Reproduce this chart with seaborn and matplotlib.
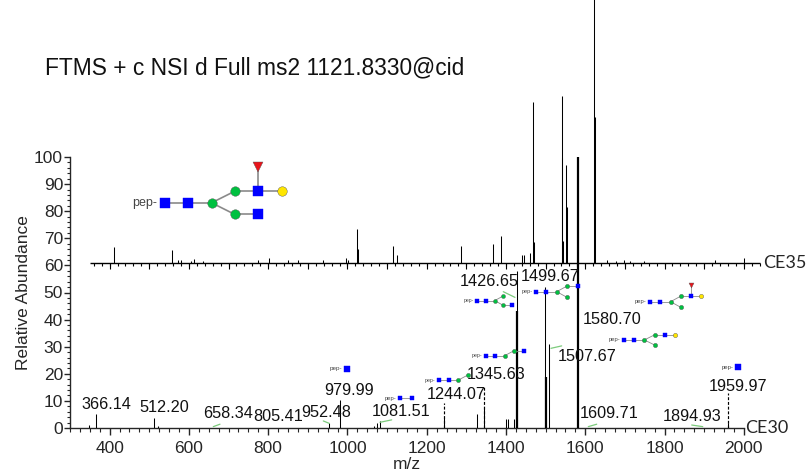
import numpy as np
import pandas as pd
import matplotlib
matplotlib.use("Agg")
import matplotlib.pyplot as plt
import seaborn as sns
from matplotlib.ticker import MultipleLocator

# ---------------- data ----------------
# lower trace (CE30): m/z and relative abundance
ce30_mz = [348.0, 366.14, 512.20, 521.0, 952.48, 979.99, 1068.0, 1075.0, 1081.51,
           1244.07, 1326.0, 1345.63, 1400.0, 1404.0, 1421.0, 1426.65, 1427.0,
           1499.67, 1500.0, 1507.67, 1580.70, 1959.97]
ce30_int = [1.0, 5.2, 3.7, 0.8, 2.0, 10.3, 0.8, 1.8, 2.7,
            3.7, 5.0, 7.7, 3.3, 3.3, 3.3, 58.0, 43.0,
            52.0, 19.0, 31.0, 100.0, 1.8]
ce30_thick = [1427.0, 1500.0, 1580.70]

# upper trace (CE35): m/z and abundance above its own baseline
ce35_mz = [411.8, 556.6, 572.5, 580.0, 604.5, 612.9, 635.6, 774.3, 802.0, 850.0,
           875.2, 938.3, 995.6, 1001.4, 1023.3, 1025.4, 1115.7, 1124.3, 1286.5,
           1366.5, 1387.4, 1439.6, 1445.4, 1460.6, 1468.2, 1471.5, 1540.6, 1542.1,
           1544.7, 1550.7, 1552.7, 1622.1, 1623.8, 1654.1, 1677.6, 1698.5, 1712.9,
           1748.2, 1927.4, 2000.5]
ce35_int = [5.9, 4.8, 1.1, 1.1, 0.7, 1.5, 0.7, 1.1, 1.8, 1.1,
            1.1, 1.1, 1.8, 1.1, 12.5, 5.2, 6.3, 3.0, 6.0,
            7.0, 10.0, 3.0, 3.0, 3.7, 59.4, 7.7, 38.7, 61.6,
            8.1, 36.2, 20.7, 100.0, 53.9, 1.1, 0.7, 1.1, 0.7,
            0.7, 1.1, 1.8]
ce35_baseline = 61.0

# peak labels (text, label position in data units)
label_text = ["366.14", "512.20", "658.34", "805.41", "952.48", "979.99", "1081.51",
              "1244.07", "1345.63", "1426.65", "1499.67", "1507.67", "1580.70",
              "1609.71", "1894.93", "1959.97"]
label_x = [392.6, 537.2, 698.6, 824.8, 945.9, 1005.2, 1135.1,
           1273.9, 1374.8, 1358.9, 1511.1, 1605.7, 1668.7,
           1659.9, 1870.6, 1985.4]
label_y = [8.5, 7.4, 5.2, 4.4, 5.6, 14.0, 6.0,
           12.5, 19.6, 54.0, 55.8, 26.3, 39.9,
           5.2, 4.4, 15.2]

# dashed guides from label to peak
dash_mz = [1243.6, 1344.5, 1959.4]
dash_top = [9.2, 15.5, 12.9]

# green leader lines (x0, y0, x1, y1)
lead_x0 = [661.5, 939.1, 1082.1, 1393.2, 1513.5, 1607.7, 1868.6]
lead_y0 = [0.5, 2.6, 2.1, 50.3, 29.4, 0.5, 1.1]
lead_x1 = [678.4, 954.3, 1111.6, 1422.7, 1540.5, 1628.9, 1896.4]
lead_y1 = [1.4, 1.7, 3.0, 48.2, 30.3, 1.4, 0.5]

# ---------------- glycan cartoons ----------------
STRUCT = {
    "G0": ([("S", 0, 0), ("S", 1, 0), ("C", 2, 0), ("C", 3, 1), ("C", 3, -1), ("S", 4, 1),
            ("S", 4, -1), ("Y", 5, 1), ("F", 4, "f")],
           [(0, 1), (1, 2), (2, 3), (2, 4), (3, 5), (4, 6), (5, 7), (5, 8)]),
    "G3": ([("S", 0, 0), ("S", 1, 0), ("C", 2, 0), ("C", 3, 1), ("C", 3, -1), ("S", 4, 1),
            ("Y", 5, 1), ("F", 4, "f")],
           [(0, 1), (1, 2), (2, 3), (2, 4), (3, 5), (5, 6), (5, 7)]),
    "G4": ([("S", 0, 0), ("S", 1, 0), ("C", 2, 0), ("C", 3, 1), ("C", 3, -1), ("S", 4, 1),
            ("Y", 5, 1)],
           [(0, 1), (1, 2), (2, 3), (2, 4), (3, 5), (5, 6)]),
    "G2": ([("S", 0, 0), ("S", 1, 0), ("C", 2, 0), ("C", 3, 1), ("C", 3, -1), ("S", 4, 1)],
           [(0, 1), (1, 2), (2, 3), (2, 4), (3, 5)]),
    "G1": ([("S", 0, 0), ("S", 1, 0), ("C", 2, 0), ("C", 3, 1), ("C", 3, -1), ("S", 4, -1)],
           [(0, 1), (1, 2), (2, 3), (2, 4), (4, 5)]),
    "G5": ([("S", 0, 0), ("S", 1, 0), ("C", 2, 0), ("C", 3, 1), ("S", 4, 1)],
           [(0, 1), (1, 2), (2, 3), (3, 4)]),
    "G6": ([("S", 0, 0), ("S", 1, 0), ("C", 2, 0), ("C", 3, 1)],
           [(0, 1), (1, 2), (2, 3)]),
    "G7": ([("S", 0, 0), ("S", 1, 0)], [(0, 1)]),
    "G8": ([("S", 0, 0)], []),
}
SYMBOL = {"S": ("s", "#0000FF"), "C": ("o", "#00C040"), "Y": ("o", "#FFE600"), "F": ("v", "#E8141B")}

# glycan placements: kind, anchor m/z, anchor abundance, step px, symbol px, pep font, branch
gly_kind = ["G0", "G1", "G2", "G3", "G4", "G5", "G6", "G7", "G8", "G8"]
gly_mz = [539.7, 1327.6, 1475.0, 1763.3, 1697.7, 1348.8, 1231.0, 1132.6, 999.6, 1984.6]
gly_ab = [83.1, 47.0, 50.3, 46.6, 32.5, 26.7, 17.7, 11.0, 21.8, 22.5]
gly_step = [23.3, 8.7, 10.5, 10.3, 10.2, 9.5, 9.7, 12.3, 10.0, 10.0]
gly_size = [9.5, 4.0, 4.3, 4.3, 4.3, 4.2, 4.2, 5.0, 6.0, 5.2]
gly_font = [9.0, 3.6, 4.0, 4.2, 4.2, 3.8, 3.8, 4.2, 4.5, 4.3]
gly_branch = [0.5, 0.55, 0.55, 0.55, 0.5, 0.53, 0.53, 0.5, 0.5, 0.5]

# ---------------- figure ----------------
sns.set_style("ticks")
plt.rcParams["font.family"] = ["Liberation Sans", "DejaVu Sans"]

W, H = 811, 473
fig = plt.figure(figsize=(W / 100, H / 100), dpi=100)
AX_L, AX_B, AX_W, AX_H = 70, 45, 673.8, 271
ax = fig.add_axes([AX_L / W, AX_B / H, AX_W / W, AX_H / H])
XMIN, XMAX, YMIN, YMAX = 300, 2000, 0, 100
ax.set_xlim(XMIN, XMAX)
ax.set_ylim(YMIN, YMAX)
PPX = AX_W / (XMAX - XMIN)   # px per m/z
PPY = AX_H / (YMAX - YMIN)   # px per abundance unit

lower = pd.DataFrame({"mz": ce30_mz, "ab": ce30_int})
lower["lw"] = np.where(lower["mz"].isin(ce30_thick), 1.6, 0.75)
upper = pd.DataFrame({"mz": ce35_mz, "ab": ce35_int})

# lower spectrum
ax.vlines(lower["mz"], 0, lower["ab"], colors="black", linewidths=lower["lw"], zorder=3)

# upper spectrum with its own baseline
ax.vlines(upper["mz"], ce35_baseline, ce35_baseline + upper["ab"], colors="black",
          linewidths=0.75, zorder=3, clip_on=False)
ax.hlines(ce35_baseline, 350, 2040, colors="black", linewidths=1.0, clip_on=False, zorder=3)
minor_t = np.arange(360, 2041, 20)
ax.vlines(minor_t, ce35_baseline - 1.4, ce35_baseline, colors="black", linewidths=0.8,
          clip_on=False, zorder=3)
major_t = np.arange(400, 2001, 100)
ax.vlines(major_t, ce35_baseline - 2.2, ce35_baseline, colors="black", linewidths=0.8,
          clip_on=False, zorder=3)

# dashed guides
ax.vlines(dash_mz, 0, dash_top, colors="black", linewidths=0.85, linestyles=(0, (2.5, 1.5)),
          zorder=3)

# leader lines
for x0, y0, x1, y1 in zip(lead_x0, lead_y0, lead_x1, lead_y1):
    ax.plot([x0, x1], [y0, y1], color="#7CCB7C", lw=0.9, zorder=4)

# labels
for t, x, y in zip(label_text, label_x, label_y):
    ax.text(x, y, t, ha="center", va="center", fontsize=11.7, color="#111111", zorder=6)

ax.text(2048.5, ce35_baseline, "CE35", ha="left", va="center", fontsize=13,
        family=["Lato", "DejaVu Sans"], clip_on=False)
ax.text(2003, 0, "CE30", ha="left", va="center", fontsize=13,
        family=["Lato", "DejaVu Sans"], clip_on=False)


def draw_glycan(kind, mz, ab, step, size, font, branch):
    nodes, edges = STRUCT[kind]
    xs, ys = [], []
    for t, c, r in nodes:
        lev = branch + 1.05 if r == "f" else r * branch
        xs.append(mz + c * step / PPX)
        ys.append(ab + lev * step / PPY)
    lw = 1.2 if step > 15 else 0.6
    for a, b in edges:
        ax.plot([xs[a], xs[b]], [ys[a], ys[b]], color="#8a8a8a", lw=lw, zorder=5,
                solid_capstyle="butt", clip_on=False)
    for (t, c, r), x, y in zip(nodes, xs, ys):
        m, col = SYMBOL[t]
        ms = size * 0.72
        if m == "v":
            ms *= 1.15
        ax.plot([x], [y], marker=m, ms=ms, mfc=col, mec="#555555" if t != "S" else col,
                mew=0.3, zorder=6, clip_on=False)
    ax.text(mz - 0.8 * size / PPX, ab, "pep-", ha="right", va="center", fontsize=font,
            color="#444444", zorder=6)


for k, mz, ab, st, sz, fs, br in zip(gly_kind, gly_mz, gly_ab, gly_step, gly_size,
                                      gly_font, gly_branch):
    draw_glycan(k, mz, ab, st, sz, fs, br)

# axes styling
sns.despine(ax=ax, top=True, right=True)
ax.spines["left"].set_linewidth(1.0)
ax.spines["bottom"].set_linewidth(1.0)
ax.xaxis.set_major_locator(MultipleLocator(200))
ax.xaxis.set_minor_locator(MultipleLocator(25))
ax.yaxis.set_major_locator(MultipleLocator(10))
ax.yaxis.set_minor_locator(MultipleLocator(2))
ax.tick_params(axis="x", which="major", direction="out", length=5, width=1.0, pad=4,
               labelsize=12.5)
ax.tick_params(axis="x", which="minor", direction="out", length=3, width=0.8)
ax.tick_params(axis="y", which="major", direction="out", length=4.5, width=1.0, pad=0.5,
               labelsize=12.5)
ax.tick_params(axis="y", which="minor", direction="out", length=2.5, width=0.8)
ax.set_xlabel("m/z", fontsize=12.5, labelpad=1)
ax.set_ylabel("Relative Abundance", fontsize=12.5, labelpad=2)
ax.patch.set_alpha(0)

fig.text(45 / W, 1 - 68 / H, "FTMS + c NSI d Full ms2 1121.8330@cid", ha="left",
         va="center", fontsize=16.4, color="#111111")

fig.savefig("out.png", dpi=100, facecolor="white")
